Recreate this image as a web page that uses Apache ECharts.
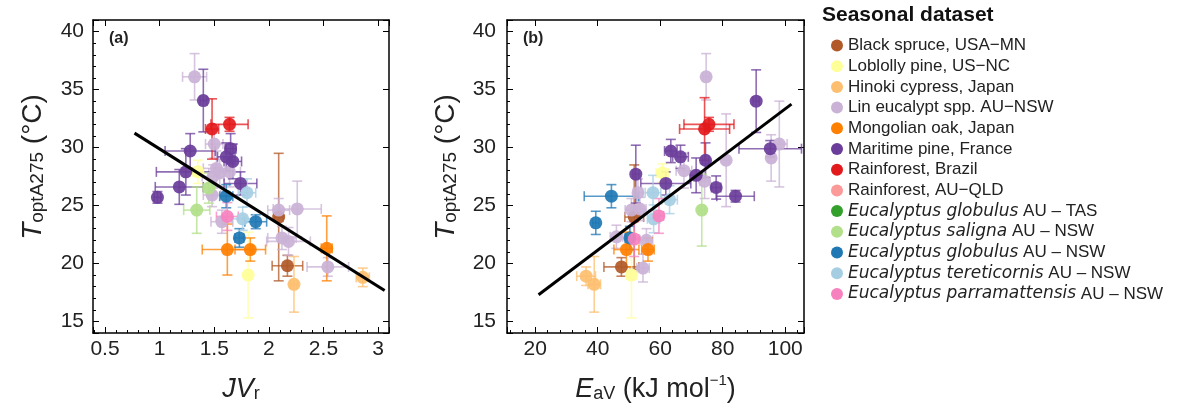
<!DOCTYPE html>
<html>
<head>
<meta charset="utf-8">
<script src="https://cdn.jsdelivr.net/npm/echarts@6/dist/echarts.min.js"></script>
<style>
html,body{margin:0;padding:0;background:#fff;}
#chart{width:1183px;height:410px;}
</style>
</head>
<body>
<div id="chart"></div>
<script>
// ---- Data: [value, ToptA275, horizontal error, vertical error] ----
// Panel (a): x = JVr
const blackSpruceA = [[2.09,24.0,0.04,5.5],[2.17,19.8,0.14,0.9]];
const loblollyA = [[1.35,27.9,0.05,1.0],[1.81,19.0,0.03,3.7]];
const hinokiA = [[2.23,18.2,0.03,2.4],[2.86,18.8,0.06,0.8]];
const linA = [[1.32,36.1,0.11,2.0],[1.50,30.3,0.08,1.2],[1.52,28.2,0.12,1.5],[1.55,27.8,0.10,1.2],
  [1.64,27.9,0.10,1.3],[1.49,27.5,0.10,1.0],[1.48,25.9,0.08,1.0],[1.57,23.6,0.10,1.0],
  [2.09,24.6,0.10,1.0],[2.26,24.7,0.22,2.4],[2.12,22.2,0.13,1.0],[2.18,21.9,0.20,1.2],[2.54,19.7,0.19,0.8]];
const mongolianA = [[1.62,21.2,0.23,2.2],[1.83,21.2,0.14,1.0],[2.53,21.3,0.05,2.8]];
const maritimeA = [[1.40,34.05,0.03,2.7],[1.28,29.7,0.23,1.5],[1.65,29.9,0.05,1.3],[1.61,29.2,0.08,1.2],
  [1.67,28.8,0.08,1.5],[1.24,27.9,0.27,2.0],[1.74,26.9,0.15,1.0],[1.18,26.6,0.22,1.5],[0.98,25.7,0.03,0.5]];
const brazilA = [[1.48,31.6,0.06,2.6],[1.64,32.0,0.17,0.6]];
const qldA = [];
const globulusTasA = [];
const salignaA = [[1.45,26.5,0.05,1.3],[1.34,24.6,0.12,2.0]];
const globulusNswA = [[1.61,25.8,0.06,1.0],[1.88,23.6,0.10,0.6],[1.73,22.2,0.04,0.8]];
const tereticornisA = [[1.80,26.1,0.08,1.2],[1.76,23.85,0.10,1.0]];
const parramattensisA = [[1.62,24.05,0.10,1.2]];

// Panel (b): x = EaV (kJ mol-1)
const blackSpruceB = [[51.7,24.0,3,4.5],[47.6,19.7,5.6,0.8]];
const loblollyB = [[60.7,27.8,2,0.8],[50.8,19.0,1.5,3.7]];
const hinokiB = [[36.3,18.9,3,0.8],[38.9,18.2,2,2.4]];
const linB = [[74.7,36.1,1,2.0],[98.1,30.3,2.5,3.7],[95.5,29.1,1,2.0],[81.1,28.9,1,4.0],[67.6,28.0,2.5,1.5],
  [74.2,27.1,1.5,1.5],[52.9,26.1,1.5,1.2],[50.8,24.6,2,1.0],[53.5,24.7,2,1.0],[55.6,22.0,2,1.0],
  [46.0,22.3,2,1.0],[54.5,19.6,2,1.2]];
const mongolianB = [[49.2,21.2,4,1.5],[56.1,21.2,2,1.0]];
const maritimeB = [[90.7,34.0,1,2.7],[95.2,29.9,10,0.7],[63.4,29.7,2,1.0],[66.5,29.2,2.5,1.0],[74.5,28.9,1,1.5],
  [52.2,27.7,1,2.5],[71.5,27.6,2,1.5],[61.8,26.9,8,1.0],[77.9,26.55,1.5,1.0],[84.1,25.8,6,0.5]];
const brazilB = [[74.2,31.6,8,2.7],[75.6,32.0,8,0.6]];
const qldB = [];
const globulusTasB = [];
const salignaB = [[73.3,24.6,1,3.1]];
const globulusNswB = [[44.4,25.8,8.7,1.0],[39.4,23.5,1,1.0],[50.3,22.2,1.5,1.0]];
const tereticornisB = [[57.7,26.1,2.5,1.5],[63.0,25.5,2.5,1.2],[57.9,23.85,2,1.2]];
const parramattensisB = [[59.6,24.1,1.5,1.5],[51.7,22.1,1.5,1.5]];

// Fitted regression lines (end points)
const fitA = [[0.77,31.24],[3.06,17.67]];
const fitB = [[21.1,17.3],[102.0,33.74]];

const datasetNames = ['Black spruce, USA\u2212MN','Loblolly pine, US\u2212NC','Hinoki cypress, Japan',
  'Lin eucalypt spp. AU\u2212NSW','Mongolian oak, Japan','Maritime pine, France','Rainforest, Brazil',
  'Rainforest, AU\u2212QLD','Eucalyptus globulus AU \u2013 TAS','Eucalyptus saligna AU \u2013 NSW',
  'Eucalyptus globulus AU \u2013 NSW','Eucalyptus tereticornis AU \u2013 NSW','Eucalyptus parramattensis AU \u2013 NSW'];
const datasetColors = ['#b15928','#ffff99','#fdbf6f','#cab2d6','#ff7f00','#6a3d9a','#e31a1c',
  '#fb9a99','#33a02c','#b2df8a','#1f78b4','#a6cee3','#f781bf'];
const panelA = [blackSpruceA,loblollyA,hinokiA,linA,mongolianA,maritimeA,brazilA,qldA,globulusTasA,salignaA,globulusNswA,tereticornisA,parramattensisA];
const panelB = [blackSpruceB,loblollyB,hinokiB,linB,mongolianB,maritimeB,brazilB,qldB,globulusTasB,salignaB,globulusNswB,tereticornisB,parramattensisB];

const FONT = "'Liberation Sans', Arial, sans-serif";
const chart = echarts.init(document.getElementById('chart'), null, {renderer:'canvas'});

function errRender(color){
  return function(params, api){
    const x = api.value(0), y = api.value(1), xe = api.value(2), ye = api.value(3);
    const ch = [];
    const cap = 5;
    const st = {stroke: color, lineWidth: 1.6, opacity: 0.75};
    if (xe > 0){
      const l = api.coord([x-xe,y]), r = api.coord([x+xe,y]);
      ch.push({type:'line', shape:{x1:l[0],y1:l[1],x2:r[0],y2:r[1]}, style:st});
      ch.push({type:'line', shape:{x1:l[0],y1:l[1]-cap,x2:l[0],y2:l[1]+cap}, style:st});
      ch.push({type:'line', shape:{x1:r[0],y1:r[1]-cap,x2:r[0],y2:r[1]+cap}, style:st});
    }
    if (ye > 0){
      const t = api.coord([x,y+ye]), b = api.coord([x,y-ye]);
      ch.push({type:'line', shape:{x1:t[0],y1:t[1],x2:b[0],y2:b[1]}, style:st});
      ch.push({type:'line', shape:{x1:t[0]-cap,y1:t[1],x2:t[0]+cap,y2:t[1]}, style:st});
      ch.push({type:'line', shape:{x1:b[0]-cap,y1:b[1],x2:b[0]+cap,y2:b[1]}, style:st});
    }
    return {type:'group', children: ch};
  };
}

const series = [];
[[panelA,0],[panelB,2]].forEach(([panel, ax]) => {
  panel.forEach((d,i) => {
    series.push({type:'custom', name: datasetNames[i], xAxisIndex: ax, yAxisIndex: ax,
      data: d, encode:{x:0,y:1}, renderItem: errRender(datasetColors[i]),
      itemStyle:{color: datasetColors[i]}, silent:true, z:2});
  });
});
[[panelA,0],[panelB,2]].forEach(([panel, ax]) => {
  panel.forEach((d,i) => {
    series.push({type:'scatter', name: datasetNames[i], xAxisIndex: ax, yAxisIndex: ax,
      data: d.map(p => [p[0], p[1]]), symbol:'circle', symbolSize: 13,
      itemStyle:{color: datasetColors[i], opacity: 0.92}, z:3});
  });
});
series.push({type:'line', xAxisIndex:0, yAxisIndex:0, data: fitA, symbol:'none',
  lineStyle:{color:'#000', width:3}, z:4, silent:true});
series.push({type:'line', xAxisIndex:2, yAxisIndex:2, data: fitB, symbol:'none',
  lineStyle:{color:'#000', width:3}, z:4, silent:true});

const labelStyle = {color:'#222', fontSize:21, fontFamily:FONT};
function mainX(grid, min, max, nameText, rich, gap){
  return {type:'value', gridIndex:grid, position:'bottom', min:min, max:max, splitNumber:5,
    axisLine:{show:true, onZero:false, lineStyle:{color:'#000', width:1.5}},
    axisTick:{show:true, inside:true, length:6, lineStyle:{color:'#000'}},
    minorTick:{show:true, splitNumber:5, length:3, lineStyle:{color:'#000'}},
    splitLine:{show:false},
    axisLabel:Object.assign({margin:6, showMinLabel:false, showMaxLabel:false}, labelStyle),
    name:nameText, nameLocation:'middle', nameGap:gap,
    nameTextStyle:{fontFamily:FONT, color:'#222', rich:rich}};
}
function frameX(grid, min, max){
  return {type:'value', gridIndex:grid, position:'top', min:min, max:max, splitNumber:5,
    axisLine:{show:true, onZero:false, lineStyle:{color:'#000', width:1.5}},
    axisTick:{show:true, inside:true, length:6, lineStyle:{color:'#000'}},
    minorTick:{show:false}, splitLine:{show:false}, axisLabel:{show:false}};
}
function mainY(grid, margin){
  return {type:'value', gridIndex:grid, position:'left', min:14, max:41, splitNumber:5,
    axisLine:{show:true, onZero:false, lineStyle:{color:'#000', width:1.5}},
    axisTick:{show:true, inside:true, length:6, lineStyle:{color:'#000'}},
    minorTick:{show:true, splitNumber:5, length:3, lineStyle:{color:'#000'}},
    splitLine:{show:false},
    axisLabel:Object.assign({margin:margin, showMinLabel:false, showMaxLabel:false}, labelStyle)};
}
function frameY(grid){
  return {type:'value', gridIndex:grid, position:'right', min:14, max:41, splitNumber:5,
    axisLine:{show:true, onZero:false, lineStyle:{color:'#000', width:1.5}},
    axisTick:{show:true, inside:true, length:6, lineStyle:{color:'#000'}},
    minorTick:{show:false}, splitLine:{show:false}, axisLabel:{show:false}};
}
const xRichA = {
  i:{fontSize:27, fontStyle:'italic', fontFamily:FONT, color:'#222', lineHeight:34, verticalAlign:'bottom'},
  s:{fontSize:18, fontFamily:FONT, color:'#222', lineHeight:34, verticalAlign:'bottom'}
};
const xRichB = {
  i:{fontSize:27, fontStyle:'italic', fontFamily:FONT, color:'#222', lineHeight:34, verticalAlign:'bottom'},
  s:{fontSize:18, fontFamily:FONT, color:'#222', lineHeight:34, verticalAlign:'bottom'},
  n:{fontSize:27, fontFamily:FONT, color:'#222', lineHeight:34, verticalAlign:'bottom'},
  p:{fontSize:15, fontFamily:FONT, color:'#222', lineHeight:34, verticalAlign:'top', padding:[4,0,0,0]}
};
const yLabelRich = {
  t:{fontSize:28, fontStyle:'italic', fontFamily:FONT, fill:'#222', lineHeight:34, verticalAlign:'bottom'},
  s:{fontSize:19, fontFamily:FONT, fill:'#222', lineHeight:34, verticalAlign:'bottom'},
  n:{fontSize:28, fontFamily:FONT, fill:'#222', lineHeight:34, verticalAlign:'bottom'}
};
const yLabelText = '{t|T}{s|optA275}{n| (\u00B0C)}';

const ITFONT = "'DejaVu Sans', Verdana, sans-serif";
const legendRich = {
  it:{fontStyle:'italic', fontSize:17, fontFamily:ITFONT, color:'#222', lineHeight:17},
  r:{fontSize:17, fontFamily:FONT, color:'#222', lineHeight:17}
};

chart.setOption({
  animation:false,
  backgroundColor:'#fff',
  grid:[
    {left:93, top:20, width:296, height:313, show:false},
    {left:507, top:20, width:297, height:313, show:false}
  ],
  xAxis:[
    mainX(0, 0.39, 3.1, '{i|JV}{s|r}', xRichA, 36),
    frameX(0, 0.39, 3.1),
    mainX(1, 11, 106, '{i|E}{s|aV}{n| (kJ mol}{p|\u22121}{n|)}', xRichB, 36),
    frameX(1, 11, 106)
  ],
  yAxis:[ mainY(0, 9), frameY(0), mainY(1, 11), frameY(1) ],
  legend:{
    orient:'vertical', left:826, top:32, itemWidth:12, itemHeight:12, itemGap:3.7,
    icon:'circle', selectedMode:false,
    data: datasetNames.map((n,i) => ({name:n, itemStyle:{color:datasetColors[i], opacity:1}})),
    formatter: function(name){
      if (name.indexOf('Eucalyptus') === 0){
        const parts = name.split(' ');
        return '{it|' + parts[0] + ' ' + parts[1] + '}{r| ' + parts.slice(2).join(' ') + '}';
      }
      return '{r|' + name + '}';
    },
    textStyle:{fontSize:17, fontFamily:FONT, color:'#222', lineHeight:17, padding:[0,0,0,0], rich:legendRich}
  },
  graphic:[
    {type:'text', left:822, top:5, style:{text:'Seasonal dataset', fontSize:21, fontWeight:'bold', fontFamily:FONT, fill:'#111'}},
    {type:'text', left:109, top:31, style:{text:'(a)', fontSize:16, fontWeight:'bold', fontFamily:FONT, fill:'#222'}},
    {type:'text', left:523, top:31, style:{text:'(b)', fontSize:16, fontWeight:'bold', fontFamily:FONT, fill:'#222'}},
    {type:'text', x:30, y:167, rotation:Math.PI/2,
      style:{text:yLabelText, rich:yLabelRich, align:'center', verticalAlign:'middle', fontFamily:FONT}},
    {type:'text', x:443, y:167, rotation:Math.PI/2,
      style:{text:yLabelText, rich:yLabelRich, align:'center', verticalAlign:'middle', fontFamily:FONT}}
  ],
  series: series
});
</script>
</body>
</html>
